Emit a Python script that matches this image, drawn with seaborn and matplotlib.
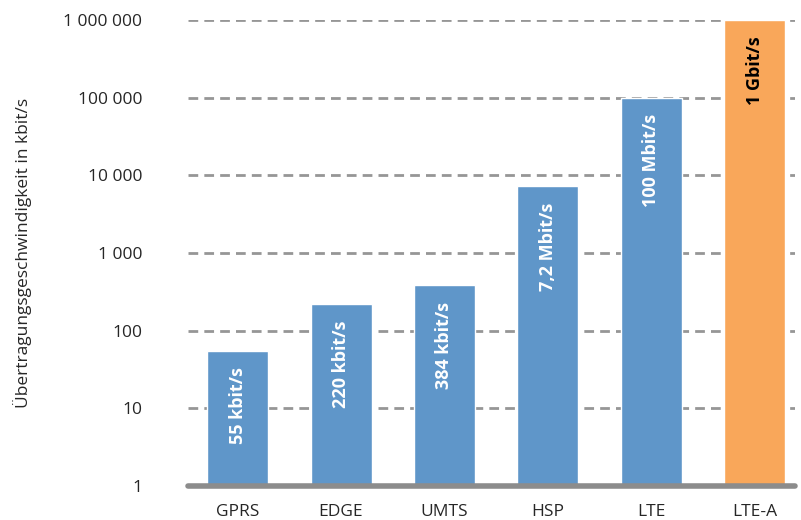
import matplotlib
matplotlib.use("Agg")
import matplotlib.pyplot as plt
import matplotlib.ticker as mticker
import seaborn as sns
import pandas as pd

# data
technologies = ["GPRS", "EDGE", "UMTS", "HSP", "LTE", "LTE-A"]
speeds_kbit = [55, 220, 384, 7200, 100000, 1000000]
bar_labels = ["55 kbit/s", "220 kbit/s", "384 kbit/s", "7,2 Mbit/s", "100 Mbit/s", "1 Gbit/s"]
bar_colors = ["#5F96C9", "#5F96C9", "#5F96C9", "#5F96C9", "#5F96C9", "#F9A75A"]
label_colors = ["white", "white", "white", "white", "white", "black"]
y_ticks = [1, 10, 100, 1000, 10000, 100000, 1000000]

df = pd.DataFrame({"tech": technologies, "speed": speeds_kbit})

sns.set_style("white")
plt.rcParams["font.family"] = ["Open Sans", "DejaVu Sans"]

fig = plt.figure(figsize=(8.01, 5.2), dpi=100)
ax = fig.add_axes([0.2347, 0.0654, 0.7578, 0.8961])

ax.set_yscale("log")
sns.barplot(data=df, x="tech", y="speed", hue="tech", palette=bar_colors,
            legend=False, width=0.59, ax=ax, saturation=1, zorder=3)

ax.set_ylim(1, 1e6)
ax.set_xlim(-0.48, 5.39)

# dashed grid at every decade
for t in y_ticks[1:]:
    ax.axhline(t, color="#969696", linestyle=(0, (3.5, 2.2)), linewidth=2, zorder=1)
ax.axhline(1, color="#8C8C8C", linewidth=4, zorder=4, clip_on=False)

ax.set_yticks(y_ticks)
ax.yaxis.set_major_formatter(mticker.FuncFormatter(lambda v, p: f"{int(round(v)):,}".replace(",", " ")))
ax.yaxis.set_minor_locator(mticker.NullLocator())
ax.tick_params(axis="y", length=0, pad=33, labelsize=12.5)
ax.tick_params(axis="x", length=0, pad=13, labelsize=12.5)
for s in ax.spines.values():
    s.set_visible(False)

ax.set_xlabel("")
ax.set_ylabel("Übertragungsgeschwindigkeit in kbit/s", fontsize=12.5)
ax.yaxis.set_label_coords(-0.257, 0.5)

for i, (v, lab, c) in enumerate(zip(speeds_kbit, bar_labels, label_colors)):
    ax.annotate(lab, xy=(i, v), xytext=(0, -12), textcoords="offset points",
                rotation=90, ha="center", va="top", color=c,
                fontsize=13, fontweight="bold", zorder=5)

fig.savefig("out.png", dpi=100)
